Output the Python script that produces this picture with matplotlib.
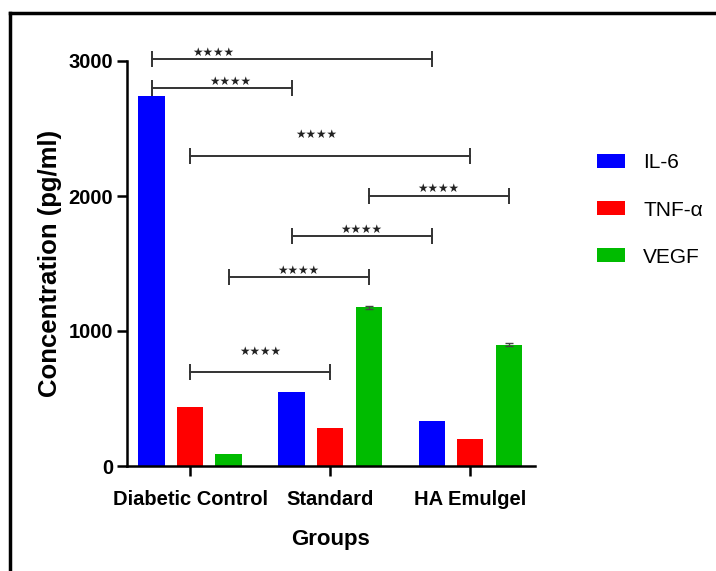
import numpy as np
import matplotlib
matplotlib.use("Agg")
import matplotlib.pyplot as plt
from matplotlib.lines import Line2D

plt.rcParams["font.family"] = ["Liberation Sans", "DejaVu Sans"]

groups = ["Diabetic Control", "Standard", "HA Emulgel"]
series = ["IL-6", "TNF-\u03b1", "VEGF"]
il6 = [2740, 545, 330]
tnf = [440, 280, 200]
vegf = [90, 1175, 900]
vegf_err = [0, 10, 10]

# comparisons: (series index, group a, group b, bracket height)
comp_series = [0, 0, 1, 2, 0, 2, 1]
comp_a = [0, 0, 0, 1, 1, 0, 0]
comp_b = [2, 1, 2, 2, 2, 1, 1]
comp_y = [3015, 2800, 2300, 2000, 1700, 1400, 700]
comp_label = ["\u2605\u2605\u2605\u2605"] * 7

colors = ["#0000ff", "#ff0000", "#00bb00"]

fig = plt.figure(figsize=(7.16, 5.71), dpi=100)
ax = fig.add_axes([127/716, 1 - 466/571, 408/716, 405/571])

x = np.arange(len(groups))
offs = [-0.275, 0, 0.275]
w = 0.186
values = [il6, tnf, vegf]
for i in range(3):
    ax.bar(x + offs[i], values[i], w, color=colors[i], label=series[i])

# small error bars on VEGF
for g in range(len(groups)):
    if vegf_err[g] > 0:
        ax.errorbar(g + offs[2], vegf[g], yerr=vegf_err[g], fmt="none",
                    ecolor="#444444", elinewidth=1, capsize=3, capthick=1)

ax.set_xlim(-0.45, 2.464)
ax.set_ylim(0, 3000)
ax.set_yticks([0, 1000, 2000, 3000])
ax.set_xticks(x)
ax.set_xticklabels(groups, fontsize=14.5, fontweight="bold")
for t in ax.get_yticklabels():
    t.set_fontsize(14.5)
    t.set_fontweight("bold")
ax.tick_params(axis="both", width=1.8, length=7, direction="out")
ax.tick_params(axis="x", pad=10)
ax.tick_params(axis="y", pad=3)
for s in ["top", "right"]:
    ax.spines[s].set_visible(False)
for s in ["left", "bottom"]:
    ax.spines[s].set_linewidth(1.8)

ax.set_ylabel("Concentration (pg/ml)", fontsize=18.5, fontweight="bold", labelpad=5)
ax.set_xlabel("Groups", fontsize=16, fontweight="bold", labelpad=15)

# significance brackets
star_frac = [0.22, 0.56, 0.45, 0.5, 0.5, 0.5, 0.5]
star_pad = [4.5, 4.5, 15, 5.5, 5, 5, 14.5]
for k in range(len(comp_y)):
    x1 = comp_a[k] + offs[comp_series[k]]
    x2 = comp_b[k] + offs[comp_series[k]]
    y = comp_y[k]
    ax.plot([x1, x2], [y, y], color="#333333", lw=1.4, marker="|", ms=12,
            mew=1.4, clip_on=False)
    xs = x1 + star_frac[k] * (x2 - x1)
    ax.annotate(comp_label[k], (xs, y), xytext=(0, star_pad[k]),
                textcoords="offset points", ha="center", va="center",
                fontsize=8.5, color="#222222", family="DejaVu Sans",
                annotation_clip=False)

fig.legend(loc="center left", bbox_to_anchor=(597/716, 1 - 210/571),
           frameon=False, fontsize=15, handlelength=1.35, handleheight=0.63,
           handletextpad=0.87, labelspacing=1.35, borderpad=0, borderaxespad=0)

# outer frame (top and left edges)
fig.add_artist(Line2D([10/716, 1], [1 - 13/571, 1 - 13/571], color="black", lw=2.5))
fig.add_artist(Line2D([10/716, 10/716], [0, 1 - 13/571], color="black", lw=2.5))

fig.savefig("out.png", dpi=100)
